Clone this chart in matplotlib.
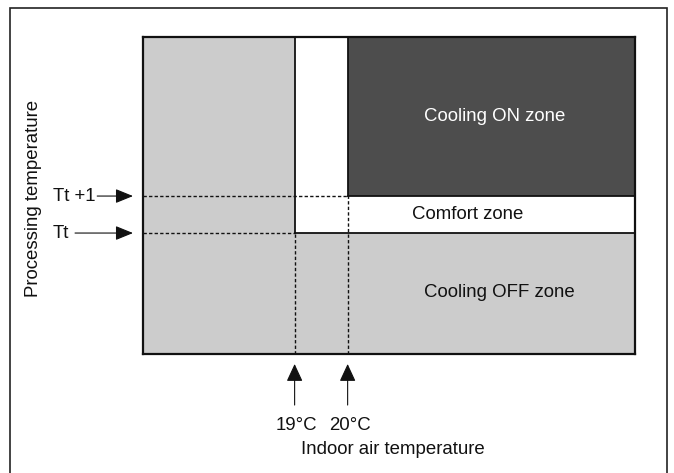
import matplotlib.pyplot as plt
from matplotlib.patches import Rectangle

plt.rcParams["font.family"] = ["Liberation Sans", "DejaVu Sans"]

# diagram values (x: indoor air temperature in °C, y: processing temperature relative to Tt)
indoor_limits = [16.14, 25.43]
processing_limits = [-3.27, 5.30]
indoor_thresholds = [19, 20]
indoor_labels = ["19°C", "20°C"]
processing_thresholds = [0, 1]
processing_labels = ["Tt", "Tt +1"]
zone_names = ["Cooling ON zone", "Comfort zone", "Cooling OFF zone"]
zone_centers_x = [22.77, 22.26, 22.87]
zone_centers_y = [3.14, 0.5, -1.62]

light = "#cccccc"
dark = "#4d4d4d"
ink = "#111111"
fs = 13.4

fig = plt.figure(figsize=(6.74, 4.73), dpi=100)
ax = fig.add_axes([143 / 674, 119 / 473, 492.5 / 674, 317 / 473])
ax.set_xlim(*indoor_limits)
ax.set_ylim(*processing_limits)
ax.set_facecolor(light)
ax.set_xticks([])
ax.set_yticks([])
for sp in ax.spines.values():
    sp.set_linewidth(1.6)
    sp.set_color(ink)
    sp.set_zorder(10)

x0, x1 = indoor_limits
y0, y1 = processing_limits
t19, t20 = indoor_thresholds
tt, tt1 = processing_thresholds

# white region (comfort column + comfort band), then cooling ON block
ax.add_patch(Rectangle((t19, tt), x1 - t19, y1 - tt, facecolor="white", edgecolor="none"))
ax.add_patch(Rectangle((t20, tt1), x1 - t20, y1 - tt1, facecolor=dark, edgecolor="none"))

# solid borders of the zones
solid = dict(color=ink, lw=1.3, zorder=5)
ax.plot([t19, t19], [tt, y1], **solid)
ax.plot([t19, x1], [tt, tt], **solid)
ax.plot([t20, t20], [tt1, y1], **solid)
ax.plot([t20, x1], [tt1, tt1], **solid)

# dotted guide lines
dash = dict(color=ink, lw=1.0, linestyle=(0, (2.4, 1.6)), zorder=4)
ax.plot([x0, t20], [tt1, tt1], **dash)
ax.plot([x0, t19], [tt, tt], **dash)
ax.plot([t19, t19], [y0, tt], **dash)
ax.plot([t20, t20], [y0, tt1], **dash)

# zone labels
for name, zx, zy in zip(zone_names, zone_centers_x, zone_centers_y):
    ax.text(zx, zy, name, ha="center", va="center", fontsize=fs,
            color="white" if name.startswith("Cooling ON") else ink)

# left arrows for processing temperature thresholds
ytrans = ax.get_yaxis_transform()
left_tails = [-0.138, -0.093]
for val, lab, tail in zip(processing_thresholds, processing_labels, left_tails):
    ax.annotate("", xy=(-0.0203, val), xycoords=ytrans, xytext=(tail, val), textcoords=ytrans,
                arrowprops=dict(arrowstyle="-|>,head_length=10.8,head_width=4.4", mutation_scale=1,
                                color=ink, lw=0.8, shrinkA=0, shrinkB=0), annotation_clip=False)
    ax.text(-0.183, val, lab, transform=ytrans, ha="left", va="center", fontsize=fs, color=ink)

# bottom arrows for indoor temperature thresholds
xtrans = ax.get_xaxis_transform()
for val, lab in zip(indoor_thresholds, indoor_labels):
    ax.annotate("", xy=(val, -0.0315), xycoords=xtrans, xytext=(val, -0.161), textcoords=xtrans,
                arrowprops=dict(arrowstyle="-|>,head_length=10.8,head_width=5.0", mutation_scale=1,
                                color=ink, lw=0.8, shrinkA=0, shrinkB=0), annotation_clip=False)
    ax.text(val + 0.04, -0.227, lab, transform=xtrans, ha="center", va="center", fontsize=fs, color=ink)

ax.text(20.86, -0.30, "Indoor air temperature", transform=xtrans, ha="center", va="center",
        fontsize=fs, color=ink)
ax.text(-0.223, 0.492, "Processing temperature", transform=ax.transAxes, rotation=90,
        ha="center", va="center", fontsize=fs, color=ink)

# outer frame
fig.add_artist(Rectangle((10 / 674, -0.05), 656.5 / 674, 1.05 - 8 / 473, transform=fig.transFigure,
                         fill=False, edgecolor="#222222", lw=1.2))

fig.savefig("out.png", dpi=100)
